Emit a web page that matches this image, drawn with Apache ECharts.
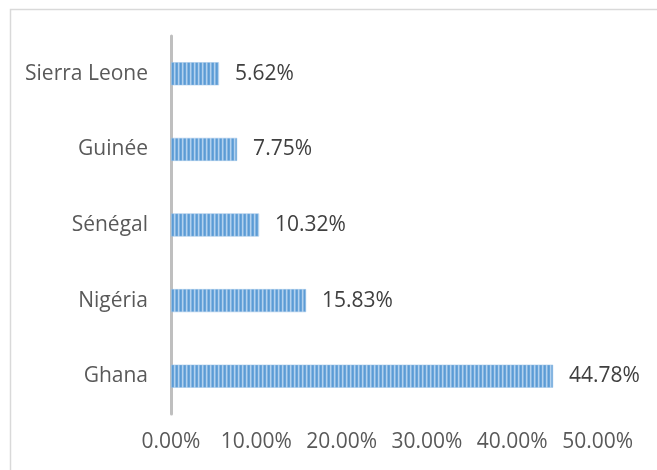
<!DOCTYPE html>
<html><head><meta charset="utf-8">
<script src="https://cdn.jsdelivr.net/npm/echarts@6/dist/echarts.min.js"></script>
<style>html,body{margin:0;padding:0;background:#fff}#c{width:657px;height:470px}</style>
</head><body><div id="c"></div>
<script>
const categories = ['Ghana', 'Nigéria', 'Sénégal', 'Guinée', 'Sierra Leone'];
const values = [0.4478, 0.1583, 0.1032, 0.0775, 0.0562];
const tickValues = [0, 0.1, 0.2, 0.3, 0.4, 0.5];

function pct(v) { return (v * 100).toFixed(2) + '%'; }

const pc = document.createElement('canvas');
pc.width = 4; pc.height = 1;
const px = pc.getContext('2d');
const cols = ['#5b9bd5', '#6aa5da', '#b3d1ee', '#86b6e1'];
cols.forEach((c, i) => { px.fillStyle = c; px.fillRect(i, 0, 1, 1); });

const font = '"Open Sans", sans-serif';
const chart = echarts.init(document.getElementById('c'), null, {renderer: 'canvas'});
chart.setOption({
  animation: false,
  graphic: [{
    type: 'rect', left: 8, top: 7, shape: {width: 700, height: 500},
    style: {fill: 'none', stroke: '#d9d9d9', lineWidth: 1.5}, z: -1
  }],
  grid: {left: 171, right: 59.4, top: 36, bottom: 56, containLabel: false},
  xAxis: {
    type: 'value', min: tickValues[0], max: tickValues[tickValues.length - 1], interval: 0.1,
    axisLine: {show: false}, axisTick: {show: false}, splitLine: {show: false},
    axisLabel: {formatter: pct, color: '#595959', fontSize: 21, fontFamily: font, margin: 18}
  },
  yAxis: {
    type: 'category', data: categories,
    axisLine: {show: true, lineStyle: {color: '#bfbfbf', width: 3}},
    axisTick: {show: false},
    axisLabel: {color: '#595959', fontSize: 21, fontFamily: font, margin: 23}
  },
  series: [{
    type: 'bar', data: values, barWidth: 23,
    itemStyle: {color: {image: pc, repeat: 'repeat'}, borderColor: '#9dc3e6', borderWidth: 0.5},
    label: {show: true, position: 'right', distance: 16, formatter: p => pct(p.value),
      color: '#404040', fontSize: 21, fontFamily: font}
  }]
});
</script></body></html>
